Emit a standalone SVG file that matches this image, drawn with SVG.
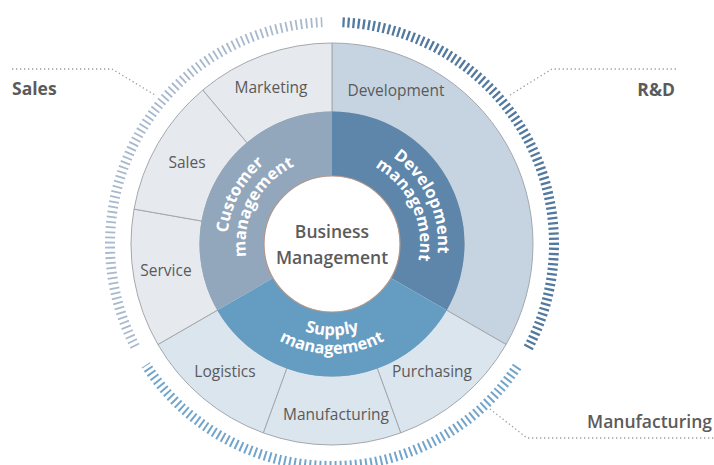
<svg xmlns="http://www.w3.org/2000/svg" width="714" height="465" viewBox="0 0 714 465">
<defs>
<style>
.seg{stroke:#a4a8ad;stroke-width:1}
.cust{fill:#e6e9ee}
.dev{fill:#c6d4e1}
.sup{fill:#dbe5ee}
.lbl{font-family:"Open Sans","Noto Sans",sans-serif;font-size:15.5px;fill:#5a5a5a;text-anchor:middle}
.ring{font-family:"Open Sans","Noto Sans",sans-serif;font-size:16.5px;font-weight:700;fill:#ffffff;text-anchor:middle}
.big{font-family:"Open Sans","Noto Sans",sans-serif;font-size:17.5px;fill:#5b5b5b}
.lead{fill:none;stroke:#9c9c9c;stroke-width:1.3;stroke-dasharray:1.3 2.7}
.tick{fill:none;stroke-width:10}
</style>
<path id="pCust1" d="M242.96,299.64 A105 105 0 0 1 328.34,139.06"/>
<path id="pCust2" d="M258.65,289.84 A86.5 86.5 0 0 1 328.98,157.55"/>
<path id="pDev1" d="M341.24,138.4 A106 106 0 0 1 418.83,304.8"/>
<path id="pDev2" d="M339.67,156.33 A88 88 0 0 1 404.09,294.48"/>
<path id="pSup1" d="M253.19,289 A90 90 0 0 0 410.81,289"/>
<path id="pSup2" d="M236.74,299 A110 110 0 0 0 427.26,299"/>
</defs>
<rect width="714" height="465" fill="#ffffff"/>

<g id="ticks">
<path class="tick" stroke="#a9b9cd" stroke-dasharray="1.8 3.3" d="M135.09,346.5 A222 222 0 0 1 322.32,22.21"/>
<path class="tick" stroke="#52799f" stroke-dasharray="2.3 2.8" d="M342.46,22.25 A222 222 0 0 1 528.0,348.23"/>
<path class="tick" stroke="#72a5cc" stroke-dasharray="2 3.1" d="M517.13,366.52 A222 222 0 0 1 145.81,364.9"/>
</g>

<g id="connectors">
<polyline class="lead" points="12,69 112,69 155,95"/>
<polyline class="lead" points="510,95 552,69 677,69"/>
<polyline class="lead" points="490,409 527,438 714,438"/>
</g>

<g id="development">
<path class="seg dev" d="M332,43 A201 201 0 0 1 506.07,344.5 L446.32,310 A132 132 0 0 0 332,112 Z"/>
<text class="lbl" x="396" y="96">Development</text>
</g>
<g id="purchasing">
<path class="seg sup" d="M506.07,344.5 A201 201 0 0 1 400.74,432.88 L377.14,368.04 A132 132 0 0 0 446.32,310 Z"/>
<text class="lbl" x="432" y="377">Purchasing</text>
</g>
<g id="manufacturing">
<path class="seg sup" d="M400.74,432.88 A201 201 0 0 1 263.26,432.88 L286.86,368.04 A132 132 0 0 0 377.14,368.04 Z"/>
<text class="lbl" x="336" y="420">Manufacturing</text>
</g>
<g id="logistics">
<path class="seg sup" d="M263.26,432.88 A201 201 0 0 1 157.93,344.5 L217.68,310 A132 132 0 0 0 286.86,368.04 Z"/>
<text class="lbl" x="225" y="377">Logistics</text>
</g>
<g id="service">
<path class="seg cust" d="M157.93,344.5 A201 201 0 0 1 134.05,209.1 L202.01,221.08 A132 132 0 0 0 217.68,310 Z"/>
<text class="lbl" x="166" y="276">Service</text>
</g>
<g id="sales">
<path class="seg cust" d="M134.05,209.1 A201 201 0 0 1 202.8,90.03 L247.15,142.89 A132 132 0 0 0 202.01,221.08 Z"/>
<text class="lbl" x="187" y="168">Sales</text>
</g>
<g id="marketing">
<path class="seg cust" d="M202.8,90.03 A201 201 0 0 1 332,43 L332,112 A132 132 0 0 0 247.15,142.89 Z"/>
<text class="lbl" x="271" y="93">Marketing</text>
</g>

<g id="customer-management">
<path fill="#93a7bc" d="M332,244 L217.25,310.25 A132.5 132.5 0 0 1 332,111.5 Z"/>
<text class="ring"><textPath href="#pCust1" startOffset="50%">Customer</textPath></text>
<text class="ring"><textPath href="#pCust2" startOffset="50%">management</textPath></text>
</g>
<g id="development-management">
<path fill="#5e86ab" d="M332,244 L332,111.5 A132.5 132.5 0 0 1 446.75,310.25 Z"/>
<text class="ring"><textPath href="#pDev1" startOffset="50%">Development</textPath></text>
<text class="ring"><textPath href="#pDev2" startOffset="50%">management</textPath></text>
</g>
<g id="supply-management">
<path fill="#659cc1" d="M332,244 L446.75,310.25 A132.5 132.5 0 0 1 217.25,310.25 Z"/>
<text class="ring"><textPath href="#pSup1" startOffset="50%">Supply</textPath></text>
<text class="ring"><textPath href="#pSup2" startOffset="50%">management</textPath></text>
</g>

<g id="business-management">
<circle cx="332" cy="244" r="68" fill="#ffffff" stroke="#b5978a" stroke-width="1.2"/>
<text class="big" x="332" y="238" text-anchor="middle" font-weight="600" font-size="18">Business</text>
<text class="big" x="332" y="264" text-anchor="middle" font-weight="600" font-size="18">Management</text>
</g>

<g id="label-sales">
<text class="big" x="12" y="95" font-weight="700">Sales</text>
</g>
<g id="label-rd">
<text class="big" x="675" y="96" font-weight="700" text-anchor="end">R&amp;D</text>
</g>
<g id="label-manufacturing">
<text class="big" x="712" y="428" font-weight="600" text-anchor="end">Manufacturing</text>
</g>
</svg>
